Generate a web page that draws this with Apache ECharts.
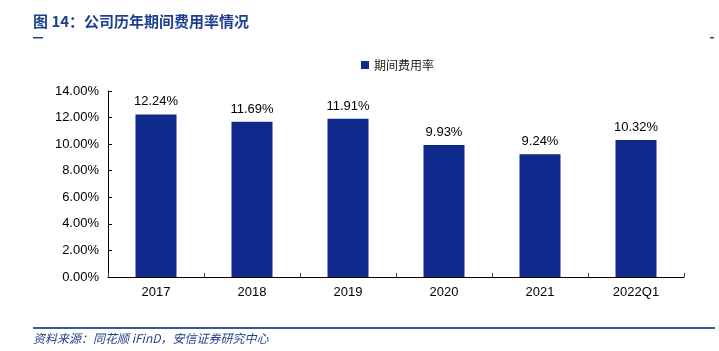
<!DOCTYPE html>
<html>
<head>
<meta charset="utf-8">
<script src="https://cdn.jsdelivr.net/npm/echarts@6/dist/echarts.min.js"></script>
<style>
  html, body { margin: 0; padding: 0; background: #fff; }
  #chart { width: 719px; height: 351px; }
</style>
</head>
<body>
<div id="chart"></div>
<script>
const years = ['2017', '2018', '2019', '2020', '2021', '2022Q1'];
const expenseRate = [12.24, 11.69, 11.91, 9.93, 9.24, 10.32];
const yTicks = [0, 2, 4, 6, 8, 10, 12, 14];

const myChart = echarts.init(document.getElementById('chart'));
const font = 'Liberation Sans, Arial, sans-serif';
const option = {
  animation: false,
  graphic: [
    {
      type: 'text', left: 33, top: 14,
      style: { text: '图 14：公司历年期间费用率情况', fill: '#1f3f8f', font: 'bold 15px "Noto Sans CJK SC", sans-serif' }
    },
    { type: 'rect', shape: { x: 33, y: 37, width: 10, height: 1.5 }, style: { fill: '#1f3f8f' } },
    { type: 'rect', shape: { x: 710, y: 37, width: 4, height: 1.5 }, style: { fill: '#1f3f8f' } },
    { type: 'rect', shape: { x: 33, y: 327, width: 682, height: 2 }, style: { fill: '#3a5a9a' } },
    {
      type: 'text', left: 33, top: 332,
      style: { text: '资料来源：同花顺 iFinD，安信证券研究中心', fill: '#1f3f8f', font: 'italic 12px "Noto Sans CJK SC", sans-serif' }
    }
  ],
  legend: {
    top: 54, left: 356,
    itemWidth: 8, itemHeight: 8,
    icon: 'rect',
    itemGap: 2,
    textStyle: { fontSize: 12, color: '#222', fontFamily: '"Noto Sans CJK SC", sans-serif' },
    data: ['期间费用率']
  },
  grid: { left: 108, right: 35, top: 91, bottom: 74, containLabel: false },
  xAxis: {
    type: 'category',
    data: years,
    axisLine: { lineStyle: { color: '#000', width: 1 } },
    axisTick: { show: true, inside: true, length: 4, lineStyle: { color: '#444' } },
    axisLabel: { color: '#000', fontSize: 13, fontFamily: font, margin: 9 }
  },
  yAxis: {
    type: 'value',
    min: 0, max: 14, interval: 2,
    axisLine: { show: true, lineStyle: { color: '#000', width: 1 } },
    axisTick: { show: true, inside: true, length: 4, lineStyle: { color: '#000' } },
    splitLine: { show: false },
    axisLabel: {
      color: '#000', fontSize: 13, fontFamily: font, margin: 9,
      formatter: v => yTicks.includes(v) ? v.toFixed(2) + '%' : ''
    }
  },
  series: [{
    name: '期间费用率',
    type: 'bar',
    data: expenseRate,
    barWidth: 41,
    itemStyle: { color: '#0f2a8c' },
    label: {
      show: true, position: 'top', distance: 6,
      color: '#000', fontSize: 13, fontFamily: font,
      formatter: p => p.value.toFixed(2) + '%'
    }
  }]
};
myChart.setOption(option);
</script>
</body>
</html>
